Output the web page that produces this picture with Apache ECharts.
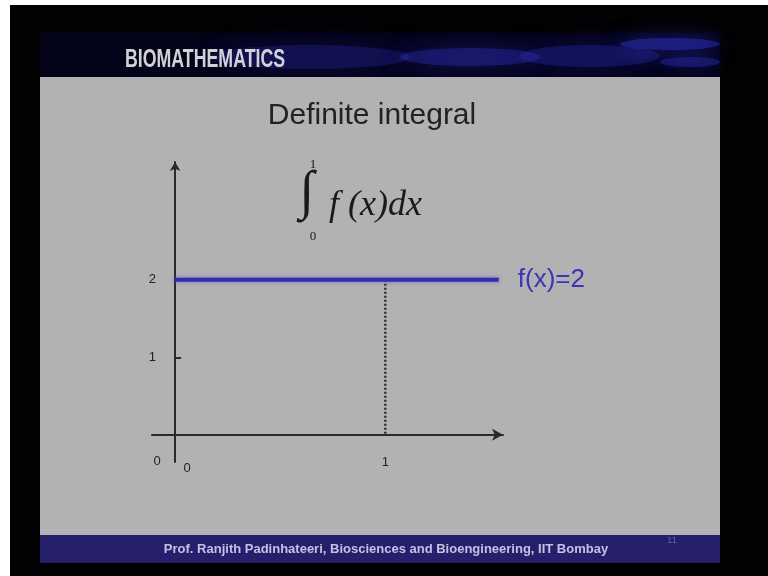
<!DOCTYPE html>
<html>
<head>
<meta charset="utf-8">
<title>Definite integral</title>
<script src="https://cdn.jsdelivr.net/npm/echarts@6/dist/echarts.min.js"></script>
<style>
  html, body { margin: 0; padding: 0; background: #ffffff; }
  #chart { position: absolute; left: 0; top: 0; width: 768px; height: 576px; }
</style>
</head>
<body>
<div id="chart"></div>
<script>
// f(x) = 2 drawn over the interval shown on the slide
const fxX = [0, 1.54];
const fxY = [2, 2];
// upper limit of the integral, marked by a dotted drop line
const limitX = [1, 1];
const limitY = [2, 0];
// tick labels
const xTicks = [0, 1];
const yTicks = [1, 2];
const curveLabel = 'f(x)=2';
const titleText = 'Definite integral';
const headerText = 'BIOMATHEMATICS';
const footerText = 'Prof. Ranjith Padinhateeri, Biosciences and Bioengineering, IIT Bombay';

const chart = echarts.init(document.getElementById('chart'), null, { renderer: 'canvas' });

const axisColor = '#2a2a2a';

// soft blue haze for the header strip
function glow(cx, cy, rx, ry, alpha, blur) {
  return {
    type: 'ellipse', shape: { cx: cx, cy: cy, rx: rx, ry: ry }, z: -8,
    style: {
      fill: 'rgba(45,45,185,' + alpha + ')',
      shadowBlur: blur,
      shadowColor: 'rgba(55,55,215,' + Math.min(1, alpha * 2) + ')'
    }
  };
}

// slide frame: black surround, header strip with glow, grey panel, navy footer
const frame = [
  { type: 'rect', shape: { x: 10, y: 5, width: 758, height: 571 }, style: { fill: '#020203' }, z: -10 },
  { type: 'rect', shape: { x: 40, y: 33, width: 680, height: 44 }, style: { fill: '#03031a' }, z: -9 },
  glow(310, 57, 100, 12, 0.28, 30),
  glow(470, 57, 70, 9, 0.4, 24),
  glow(590, 56, 70, 11, 0.32, 26),
  glow(670, 44, 50, 6, 0.5, 20),
  glow(690, 62, 30, 5, 0.4, 16),
  { type: 'rect', shape: { x: 40, y: 77, width: 680, height: 458 }, style: { fill: '#b2b2b4' }, z: -7 },
  { type: 'rect', shape: { x: 40, y: 535, width: 680, height: 28 }, style: { fill: '#26206c' }, z: -7 },
  {
    type: 'text', x: 125, y: 60, scaleX: 0.71, z: 5,
    style: { text: headerText, fill: '#d2d2d6', font: 'bold 25px "Liberation Sans", Arial, sans-serif', textVerticalAlign: 'middle' }
  },
  {
    type: 'text', x: 372, y: 116, z: 5,
    style: { text: titleText, fill: '#222222', font: '30px "Liberation Sans", Arial, sans-serif', textAlign: 'center', textVerticalAlign: 'middle' }
  },
  // the definite integral expression
  {
    type: 'text', x: 307, y: 194, z: 5,
    style: { text: '\u222B', fill: '#1a1a1a', font: '54px "Liberation Serif", "Times New Roman", serif', textAlign: 'center', textVerticalAlign: 'middle' }
  },
  {
    type: 'text', x: 313, y: 165, z: 5,
    style: { text: '1', fill: '#1a1a1a', font: '13px "Liberation Serif", "Times New Roman", serif', textAlign: 'center', textVerticalAlign: 'middle' }
  },
  {
    type: 'text', x: 313, y: 237, z: 5,
    style: { text: '0', fill: '#1a1a1a', font: '13px "Liberation Serif", "Times New Roman", serif', textAlign: 'center', textVerticalAlign: 'middle' }
  },
  {
    type: 'text', x: 329, y: 206, z: 5,
    style: { text: 'f (x)dx', fill: '#1a1a1a', font: 'italic 36px "Liberation Serif", "Times New Roman", serif', textVerticalAlign: 'middle' }
  },
  // origin label for the vertical axis
  {
    type: 'text', x: 157, y: 461, z: 5,
    style: { text: '0', fill: '#222222', font: '13px "Liberation Sans", Arial, sans-serif', textAlign: 'center', textVerticalAlign: 'middle' }
  },
  {
    type: 'text', x: 386, y: 549, z: 5,
    style: { text: footerText, fill: '#c4c2e4', font: 'bold 13px "Liberation Sans", Arial, sans-serif', textAlign: 'center', textVerticalAlign: 'middle' }
  },
  {
    type: 'text', x: 672, y: 541, z: 5,
    style: { text: '11', fill: 'rgba(170,170,210,0.5)', font: '9px "Liberation Sans", Arial, sans-serif', textAlign: 'center', textVerticalAlign: 'middle' }
  }
];

chart.setOption({
  animation: false,
  backgroundColor: 'transparent',
  graphic: { elements: frame },
  grid: { left: 152, top: 162, width: 351, height: 300, containLabel: false },
  xAxis: {
    type: 'value',
    min: -0.11,
    max: 1.56,
    splitLine: { show: false },
    axisLine: {
      onZero: true,
      lineStyle: { color: axisColor, width: 2 },
      symbol: ['none', 'arrow'],
      symbolSize: [9, 11]
    },
    axisTick: { show: false },
    axisLabel: {
      customValues: xTicks,
      margin: -6,
      color: '#222222',
      fontSize: 13,
      fontFamily: '"Liberation Sans", Arial, sans-serif',
      formatter: function (v) { return v === 0 ? '{z|0}' : String(v); },
      rich: { z: { padding: [6, 0, 0, 24], fontSize: 13, color: '#222222' } }
    }
  },
  yAxis: {
    type: 'value',
    min: -0.35,
    max: 3.52,
    splitLine: { show: false },
    axisLine: {
      onZero: true,
      lineStyle: { color: axisColor, width: 2 },
      symbol: ['none', 'arrow'],
      symbolSize: [8, 9]
    },
    axisTick: { show: true, customValues: yTicks, inside: true, length: 6, lineStyle: { color: axisColor, width: 2 } },
    axisLabel: {
      customValues: yTicks,
      margin: -4,
      color: '#222222',
      fontSize: 13,
      fontFamily: '"Liberation Sans", Arial, sans-serif'
    }
  },
  series: [
    {
      type: 'line',
      name: 'limit',
      data: limitX.map((x, i) => [x, limitY[i]]),
      symbol: 'none',
      lineStyle: { color: '#333333', width: 2.5, type: [2, 2] },
      z: 3
    },
    {
      type: 'line',
      name: 'f(x)',
      data: fxX.map((x, i) => [x, fxY[i]]),
      symbol: 'none',
      lineStyle: { color: '#362ea4', width: 4, shadowBlur: 4, shadowColor: 'rgba(90,80,220,0.8)' },
      endLabel: {
        show: true,
        formatter: curveLabel,
        distance: 19,
        color: '#3d34b2',
        fontSize: 26,
        fontFamily: '"Liberation Sans", Arial, sans-serif'
      },
      z: 4
    }
  ]
});
</script>
</body>
</html>
